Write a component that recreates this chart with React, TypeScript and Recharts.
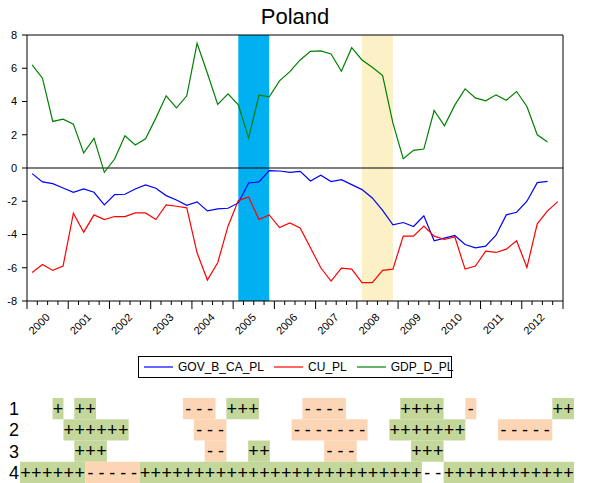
import React from "react";
import {
  LineChart,
  Line,
  XAxis,
  YAxis,
  ReferenceArea,
  ReferenceLine,
  Legend,
  ScatterChart,
  Scatter,
} from "recharts";

const FONT = '"Liberation Sans", Arial, sans-serif';

// quarterly, 2000Q1 .. 2012Q4
const YEARS = [2000, 2001, 2002, 2003, 2004, 2005, 2006, 2007, 2008, 2009, 2010, 2011, 2012];
const Y_TICKS = [-8, -6, -4, -2, 0, 2, 4, 6, 8];

const GOV_B_CA_PL = [
  -0.34, -0.84, -0.94, -1.2, -1.46, -1.26, -1.46, -2.22, -1.6, -1.58, -1.26, -1.02, -1.22,
  -1.66, -1.92, -2.24, -2.04, -2.58, -2.46, -2.42, -2.1, -0.9, -0.84, -0.16, -0.18, -0.26,
  -0.2, -0.78, -0.44, -0.82, -0.7, -1.0, -1.3, -1.8, -2.55, -3.42, -3.28, -3.52, -2.88,
  -4.38, -4.22, -4.06, -4.6, -4.8, -4.7, -4.04, -2.82, -2.66, -2.0, -0.88, -0.8,
];

const CU_PL = [
  -6.28, -5.8, -6.16, -5.9, -2.72, -3.86, -2.82, -3.1, -2.92, -2.92, -2.7, -2.7, -3.1,
  -2.22, -2.3, -2.4, -5.1, -6.74, -5.7, -3.5, -1.96, -1.74, -3.1, -2.82, -3.58, -3.3,
  -3.6, -4.8, -6.0, -6.8, -6.02, -6.08, -6.9, -6.9, -6.16, -6.08, -4.1, -4.1, -3.5,
  -4.1, -4.3, -4.14, -6.08, -5.9, -5.0, -5.08, -4.88, -4.38, -5.98, -3.36, -2.58, -2.02,
];

const GDP_D_PL = [
  6.2, 5.4, 2.8, 2.94, 2.64, 0.9, 1.78, -0.26, 0.54, 1.94, 1.38, 1.76, 3.0, 4.34, 3.62,
  4.34, 7.5, 5.7, 3.82, 4.46, 3.8, 1.8, 4.38, 4.28, 5.24, 5.8, 6.5, 7.02, 7.04, 6.86,
  5.82, 7.24, 6.5, 6.06, 5.56, 2.7, 0.56, 1.06, 1.14, 3.46, 2.54, 3.78, 4.76, 4.22,
  4.04, 4.4, 4.08, 4.6, 3.7, 2.0, 1.56,
];

// shaded periods, as quarter indexes (first, last)
const BANDS = [
  { from: 20, to: 23, fill: "#00B0F0" },
  { from: 32, to: 35, fill: "#FBF0C6" },
];

const SERIES = [
  { key: "gov", name: "GOV_B_CA_PL", color: "#0000FF" },
  { key: "cu", name: "CU_PL", color: "#FF0000" },
  { key: "gdp", name: "GDP_D_PL", color: "#008000" },
];

// sign table: [first column, number of columns, sign, shaded]
const ROW_LABELS = ["1", "2", "3", "4"];
const ROW_1: [number, number, string, boolean][] = [
  [3, 1, "+", true], [5, 2, "+", true], [15, 3, "-", true], [19, 3, "+", true],
  [26, 4, "-", true], [35, 4, "+", true], [41, 1, "-", true], [49, 2, "+", true],
];
const ROW_2: [number, number, string, boolean][] = [
  [4, 6, "+", true], [16, 3, "-", true], [25, 7, "-", true], [34, 7, "+", true], [44, 5, "-", true],
];
const ROW_3: [number, number, string, boolean][] = [
  [5, 3, "+", true], [17, 2, "-", true], [21, 2, "+", true], [28, 3, "-", true], [36, 3, "+", true],
];
const ROW_4: [number, number, string, boolean][] = [
  [0, 6, "+", true], [6, 5, "-", true], [11, 26, "+", true], [37, 2, "-", false], [39, 12, "+", true],
];
const SIGN_ROWS = [ROW_1, ROW_2, ROW_3, ROW_4];
const TABLE_COLS = 51;

const SIGN_FILL: Record<string, string> = { "+": "#C4D79B", "-": "#FCD5B4" };

const lineData = CU_PL.map((cu, i) => ({
  x: i + 0.5,
  gov: GOV_B_CA_PL[i],
  cu,
  gdp: GDP_D_PL[i],
}));

const quarterTicks = Array.from({ length: YEARS.length * 4 + 1 }, (_, k) => k);

const signCells = SIGN_ROWS.flatMap((runs, r) =>
  runs.flatMap(([start, len, sign]) =>
    Array.from({ length: len }, (_, j) => ({ col: start + j + 0.5, row: r + 0.5, sign }))
  )
);

function QuarterTick({ x, y, payload }: any) {
  const k = payload.value as number;
  const major = k % 4 === 0;
  const year = k % 4 === 2 ? YEARS[(k - 2) / 4] : null;
  const tx = x + 3;
  const ty = y + 17;
  return (
    <g>
      <line x1={x} y1={y} x2={x} y2={y + (major ? 8 : 4)} stroke="#000" />
      {year != null && (
        <text
          x={tx}
          y={ty}
          transform={`rotate(-45 ${tx} ${ty})`}
          textAnchor="end"
          fontSize={11}
          fontFamily={FONT}
          fill="#000"
        >
          {year}
        </text>
      )}
    </g>
  );
}

function LegendBox() {
  return (
    <div
      style={{
        boxSizing: "border-box",
        width: "100%",
        height: 22,
        border: "1px solid #000",
        display: "flex",
        alignItems: "center",
        paddingLeft: 5,
        fontFamily: FONT,
        fontSize: 12,
        color: "#000",
        background: "#fff",
      }}
    >
      {SERIES.map((s, i) => (
        <div key={s.key} style={{ display: "flex", alignItems: "center", marginLeft: i === 0 ? 0 : 10 }}>
          <svg width={29} height={4} style={{ display: "block" }}>
            <line x1={0} y1={2} x2={29} y2={2} stroke={s.color} strokeWidth={1.2} />
          </svg>
          <span style={{ marginLeft: 5 }}>{s.name}</span>
        </div>
      ))}
    </div>
  );
}

export default function App() {
  return (
    <div style={{ position: "absolute", left: 0, top: 0, width: 593, height: 483, background: "#fff" }}>
      <div
        style={{
          position: "absolute",
          top: 6,
          left: 0,
          width: 590,
          textAlign: "center",
          fontFamily: FONT,
          fontSize: 22,
          lineHeight: "22px",
          color: "#000",
        }}
      >
        Poland
      </div>

      <div style={{ position: "absolute", left: 0, top: 0 }}>
        <LineChart width={593} height={390} data={lineData} margin={{ top: 35, right: 0, bottom: 0, left: 0 }}>
          {BANDS.map((b) => (
            <ReferenceArea
              key={b.from}
              yAxisId="left"
              x1={b.from + 0.5}
              x2={b.to + 0.5}
              y1={-8}
              y2={8}
              fill={b.fill}
              fillOpacity={1}
              stroke="none"
            />
          ))}
          <XAxis
            dataKey="x"
            type="number"
            domain={[0, YEARS.length * 4]}
            ticks={quarterTicks}
            interval={0}
            height={89}
            tickSize={0}
            tickMargin={0}
            tickLine={false}
            axisLine={{ stroke: "#000" }}
            tick={<QuarterTick />}
          />
          <YAxis
            yAxisId="left"
            orientation="left"
            type="number"
            domain={[-8, 8]}
            ticks={Y_TICKS}
            interval={0}
            width={27}
            tickSize={5}
            tickMargin={5}
            axisLine={{ stroke: "#000" }}
            tickLine={{ stroke: "#000" }}
            tick={{ fill: "#000", fontSize: 11, fontFamily: FONT }}
          />
          <YAxis
            yAxisId="right"
            orientation="right"
            type="number"
            domain={[-8, 8]}
            ticks={Y_TICKS}
            interval={0}
            width={30}
            tickSize={5}
            tickMargin={3}
            axisLine={{ stroke: "#000" }}
            tickLine={{ stroke: "#000" }}
            tick={{ fill: "#000", fontSize: 11, fontFamily: FONT, textAnchor: "start" }}
          />
          <ReferenceLine yAxisId="left" y={8} stroke="#000" strokeWidth={1.2} />
          <ReferenceLine yAxisId="left" y={0} stroke="#000" strokeWidth={1.2} />
          {SERIES.map((s) => (
            <Line
              key={s.key}
              yAxisId="left"
              type="linear"
              dataKey={s.key}
              name={s.name}
              stroke={s.color}
              strokeWidth={1.2}
              dot={false}
              activeDot={false}
              isAnimationActive={false}
            />
          ))}
          <Legend
            layout="horizontal"
            verticalAlign="middle"
            align="center"
            wrapperStyle={{ top: 356, left: 138, width: 314, height: 22 }}
            content={() => <LegendBox />}
          />
        </LineChart>
      </div>

      <div style={{ position: "absolute", left: 0, top: 390 }}>
        <ScatterChart width={593} height={93} margin={{ top: 8, right: 19, bottom: 0, left: 0 }}>
          <XAxis dataKey="col" type="number" domain={[0, TABLE_COLS]} hide />
          <YAxis
            dataKey="row"
            type="number"
            domain={[0, 4]}
            reversed
            ticks={[0.5, 1.5, 2.5, 3.5]}
            interval={0}
            width={20}
            axisLine={false}
            tickLine={false}
            tickSize={0}
            tickMargin={1}
            tickFormatter={(v: number) => ROW_LABELS[Math.floor(v)]}
            tick={{ fill: "#000", fontSize: 18, fontFamily: FONT }}
          />
          {SIGN_ROWS.flatMap((runs, r) =>
            runs
              .filter(([, , , shaded]) => shaded)
              .map(([start, len, sign]) => (
                <ReferenceArea
                  key={`${r}-${start}`}
                  x1={start}
                  x2={start + len}
                  y1={r}
                  y2={r + 1}
                  fill={SIGN_FILL[sign]}
                  fillOpacity={1}
                  stroke="none"
                  ifOverflow="visible"
                />
              ))
          )}
          <Scatter
            data={signCells}
            isAnimationActive={false}
            shape={(p: any) => (
              <text
                x={p.cx}
                y={p.cy}
                dy="0.35em"
                textAnchor="middle"
                fontSize={18}
                fontFamily={FONT}
                fill="#000"
              >
                {p.payload.sign}
              </text>
            )}
          />
        </ScatterChart>
      </div>
    </div>
  );
}
